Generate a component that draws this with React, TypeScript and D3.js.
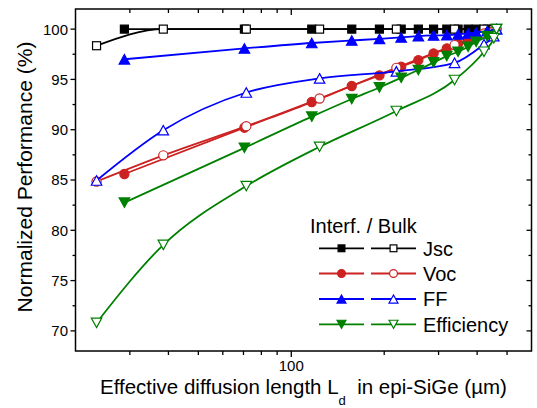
import React from 'react';
import * as d3 from 'd3';

// Effective diffusion length (µm) for interface-limited (filled) and bulk-limited (open) series
const ldInterf = [28.8, 70.5, 116.5, 157, 193, 227, 258, 289, 319, 347, 374, 397, 431, 462];
const ldBulk = [23.4, 38.5, 71.5, 123.5, 219, 338, 421, 453, 462];

const jscInterf = [100, 100, 100, 100, 100, 100, 100, 100, 100, 100, 100, 100, 100, 100];
const vocInterf = [85.6, 90.2, 92.75, 94.35, 95.4, 96.26, 96.92, 97.58, 98.08, 98.58, 98.98, 99.24, 99.6, 100];
const ffInterf = [97.0, 98.08, 98.62, 98.87, 99.03, 99.17, 99.3, 99.37, 99.4, 99.47, 99.57, 99.67, 99.8, 100];
const effInterf = [82.75, 88.2, 91.3, 93.05, 94.2, 95.16, 95.93, 96.69, 97.32, 97.75, 98.24, 98.74, 99.3, 100];

const jscBulk = [98.35, 100, 100, 100, 100, 100, 100, 100, 100];
const vocBulk = [84.85, 87.45, 90.35, 93.1, 96.15, 98.41, 99.57, 99.8, 100];
const ffBulk = [84.95, 89.95, 93.7, 95.1, 95.8, 96.65, 98.5, 99.3, 100];
const effBulk = [70.8, 78.55, 84.4, 88.3, 91.86, 94.94, 97.75, 99.1, 100];

const seriesNames = ['Jsc', 'Voc', 'FF', 'Efficiency'];
const seriesColors = ['#000000', '#CC2222', '#0000FF', '#008000'];
const seriesShapes = ['square', 'circle', 'triUp', 'triDown'];
const interfValues = [jscInterf, vocInterf, ffInterf, effInterf];
const bulkValues = [jscBulk, vocBulk, ffBulk, effBulk];

const yTicks = [70, 75, 80, 85, 90, 95, 100];
const yMinorTicks = [67.5, 72.5, 77.5, 82.5, 87.5, 92.5, 97.5];
const xMajorTicks = [100];
const xMinorTicks = [30, 40, 50, 60, 70, 80, 90, 200, 300, 400, 500];

const W = 537;
const H = 408;
const L = 75.5;
const R = 531.5;
const T = 9;
const B = 351;
const FONT = '"Liberation Sans", Arial, Helvetica, sans-serif';

function Marker({ shape, cx, cy, color, filled, scale = 1 }: { shape: string; cx: number; cy: number; color: string; filled: boolean; scale?: number }) {
  const fill = filled ? color : '#ffffff';
  const sw = 1.2;
  if (shape === 'square') {
    const s = 8 * scale;
    return <rect x={cx - s / 2} y={cy - s / 2} width={s} height={s} fill={fill} stroke={color} strokeWidth={sw} />;
  }
  if (shape === 'circle') {
    return <circle cx={cx} cy={cy} r={4.6 * scale} fill={fill} stroke={color} strokeWidth={sw} />;
  }
  const w = 10.5 * scale;
  const h = 9.5 * scale;
  const d = shape === 'triUp'
    ? `M${cx},${cy - h / 2}L${cx + w / 2},${cy + h / 2}L${cx - w / 2},${cy + h / 2}Z`
    : `M${cx},${cy + h / 2}L${cx + w / 2},${cy - h / 2}L${cx - w / 2},${cy - h / 2}Z`;
  return <path d={d} fill={fill} stroke={color} strokeWidth={sw} strokeLinejoin="miter" />;
}

export default function App() {
  const x = d3.scaleLog().domain([20, 600]).range([L, R]);
  const y = d3.scaleLinear().domain([68, 102]).range([B, T]);
  const line = d3
    .line<[number, number]>()
    .x((d) => x(d[0]))
    .y((d) => y(d[1]))
    .curve(d3.curveMonotoneX);

  const legendX1 = 319;
  const legendX2 = 371;
  const legendLen = 45;
  const legendRowY = [248.3, 273.5, 299, 324.3];

  return (
    <svg width={W} height={H} style={{ position: 'absolute', left: 0, top: 0, background: '#fff' }} fontFamily={FONT}>
      <rect x={0} y={0} width={W} height={H} fill="#fff" />
      <defs>
        <clipPath id="plotclip">
          <rect x={L} y={T} width={R - L} height={B - T} />
        </clipPath>
      </defs>

      {/* data */}
      <g clipPath="url(#plotclip)">
        {seriesNames.map((name, i) => {
          const color = seriesColors[i];
          const fPts = ldInterf.map((v, k) => [v, interfValues[i][k]] as [number, number]);
          const oPts = ldBulk.map((v, k) => [v, bulkValues[i][k]] as [number, number]);
          return (
            <g key={name}>
              <path d={line(fPts) || ''} fill="none" stroke={color} strokeWidth={1.8} />
              {fPts.map((p, k) => (
                <Marker key={'f' + k} shape={seriesShapes[i]} cx={x(p[0])} cy={y(p[1])} color={color} filled={true} />
              ))}
              <path d={line(oPts) || ''} fill="none" stroke={color} strokeWidth={1.8} />
              {oPts.map((p, k) => (
                <Marker key={'o' + k} shape={seriesShapes[i]} cx={x(p[0])} cy={y(p[1])} color={color} filled={false} />
              ))}
            </g>
          );
        })}
      </g>

      {/* frame */}
      <rect x={L} y={T} width={R - L} height={B - T} fill="none" stroke="#000" strokeWidth={1.5} />

      {/* y ticks left (outward) and right (inward) */}
      {yTicks.map((t) => (
        <g key={'y' + t}>
          <line x1={L - 5} x2={L} y1={y(t)} y2={y(t)} stroke="#000" strokeWidth={1.3} />
          <line x1={R - 5} x2={R} y1={y(t)} y2={y(t)} stroke="#000" strokeWidth={1.3} />
          <text x={68} y={y(t)} dy="0.36em" textAnchor="end" fontSize={15} fill="#000">
            {t}
          </text>
        </g>
      ))}
      {yMinorTicks.filter((t) => t > 68).map((t) => (
        <g key={'ym' + t}>
          <line x1={L - 3} x2={L} y1={y(t)} y2={y(t)} stroke="#000" strokeWidth={1.3} />
          <line x1={R - 3} x2={R} y1={y(t)} y2={y(t)} stroke="#000" strokeWidth={1.3} />
        </g>
      ))}

      {/* x ticks bottom (outward) and top (inward) */}
      {xMajorTicks.map((t) => (
        <g key={'x' + t}>
          <line x1={x(t)} x2={x(t)} y1={B} y2={B + 6} stroke="#000" strokeWidth={1.3} />
          <line x1={x(t)} x2={x(t)} y1={T} y2={T + 6} stroke="#000" strokeWidth={1.3} />
          <text x={x(t)} y={371} textAnchor="middle" fontSize={15} fill="#000">
            {t}
          </text>
        </g>
      ))}
      {xMinorTicks.map((t) => (
        <g key={'xm' + t}>
          <line x1={x(t)} x2={x(t)} y1={B} y2={B + 4} stroke="#000" strokeWidth={1.3} />
          <line x1={x(t)} x2={x(t)} y1={T} y2={T + 4} stroke="#000" strokeWidth={1.3} />
        </g>
      ))}

      {/* axis titles */}
      <text x={100} y={394} fontSize={20.5} fill="#000">
        Effective diffusion length L
        <tspan fontSize={13} dy={11}>d</tspan>
        <tspan dy={-11}>{'\u00a0 in epi-SiGe (\u00b5m)'}</tspan>
      </text>
      <text transform="translate(32,177) rotate(-90)" textAnchor="middle" fontSize={21} fill="#000">
        Normalized Performance (%)
      </text>

      {/* legend */}
      <text x={310} y={233} fontSize={20} fill="#000">
        Interf. / Bulk
      </text>
      {seriesNames.map((name, i) => {
        const yy = legendRowY[i];
        const color = seriesColors[i];
        return (
          <g key={'lg' + name}>
            <line x1={legendX1} x2={legendX1 + legendLen} y1={yy} y2={yy} stroke={color} strokeWidth={1.8} />
            <Marker shape={seriesShapes[i]} cx={legendX1 + legendLen / 2} cy={yy} color={color} filled={true} scale={0.85} />
            <line x1={legendX2} x2={legendX2 + legendLen} y1={yy} y2={yy} stroke={color} strokeWidth={1.8} />
            <Marker shape={seriesShapes[i]} cx={legendX2 + legendLen / 2} cy={yy} color={color} filled={false} scale={0.85} />
            <text x={423} y={yy + 7.2} fontSize={20} fill="#000">
              {name}
            </text>
          </g>
        );
      })}
    </svg>
  );
}
